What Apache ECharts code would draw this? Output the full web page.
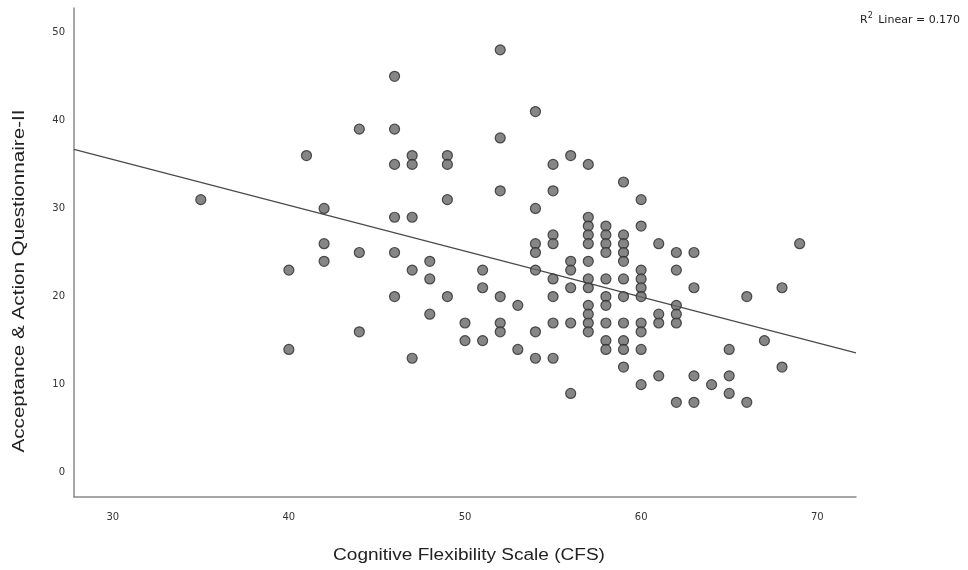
<!DOCTYPE html>
<html>
<head>
<meta charset="utf-8">
<script src="https://cdn.jsdelivr.net/npm/echarts@6/dist/echarts.min.js"></script>
<style>
html,body{margin:0;padding:0;background:#fff;}
#chart{width:968px;height:570px;}
</style>
</head>
<body>
<div id="chart"></div>
<script>
// CFS scores (x) and AAQ-II scores (y), one entry per participant
const cfsScores = [
  35,
  40, 40,
  41,
  42, 42, 42,
  44, 44, 44,
  46, 46, 46, 46, 46, 46,
  47, 47, 47, 47, 47,
  48, 48, 48,
  49, 49, 49, 49,
  50, 50,
  51, 51, 51,
  52, 52, 52, 52, 52, 52,
  53, 53,
  54, 54, 54, 54, 54, 54, 54,
  55, 55, 55, 55, 55, 55, 55, 55,
  56, 56, 56, 56, 56, 56,
  57, 57, 57, 57, 57, 57, 57, 57, 57, 57, 57, 57,
  58, 58, 58, 58, 58, 58, 58, 58, 58, 58,
  59, 59, 59, 59, 59, 59, 59, 59, 59, 59, 59,
  60, 60, 60, 60, 60, 60, 60, 60, 60, 60,
  61, 61, 61, 61,
  62, 62, 62, 62, 62, 62,
  63, 63, 63, 63,
  64,
  65, 65, 65,
  66, 66,
  67,
  68, 68,
  69
];
const aaqScores = [
  31,
  23, 14,
  36,
  30, 26, 24,
  39, 25, 16,
  45, 39, 35, 29, 25, 20,
  36, 35, 29, 23, 13,
  24, 22, 18,
  36, 35, 31, 20,
  17, 15,
  23, 21, 15,
  48, 38, 32, 20, 17, 16,
  19, 14,
  41, 30, 26, 25, 23, 16, 13,
  35, 32, 27, 26, 22, 20, 17, 13,
  36, 24, 23, 21, 17, 9,
  35, 29, 28, 27, 26, 24, 22, 21, 19, 18, 17, 16,
  28, 27, 26, 25, 22, 20, 19, 17, 15, 14,
  33, 27, 26, 25, 24, 22, 20, 17, 15, 14, 12,
  31, 28, 23, 22, 21, 20, 17, 16, 14, 10,
  26, 18, 17, 11,
  25, 23, 19, 18, 17, 8,
  25, 21, 11, 8,
  10,
  14, 11, 9,
  20, 8,
  15,
  21, 12,
  26
];
// fitted linear line endpoints (x, y)
const fitX = [27.8, 72.2];
const fitY = [36.7, 13.6];
const xTickLabels = [30, 40, 50, 60, 70];
const yTickLabels = [0, 10, 20, 30, 40, 50];
const xRange = [27.8, 72.2];
const yRange = [-2.75, 52.75];
const rSquared = '0.170';
const xTitle = 'Cognitive Flexibility Scale (CFS)';
const yTitle = 'Acceptance & Action Questionnaire-II';

const points = cfsScores.map((x, i) => [x, aaqScores[i]]);
const fitLine = fitX.map((x, i) => [x, fitY[i]]);

const chart = echarts.init(document.getElementById('chart'), null, {renderer: 'canvas'});
chart.setOption({
  animation: false,
  backgroundColor: '#ffffff',
  title: {
    text: '{r|R}{sup|2}{r| Linear = ' + rSquared + '}',
    left: 855,
    top: 7,
    textStyle: {
      fontWeight: 'normal',
      rich: {
        r: {fontFamily: 'DejaVu Sans', fontSize: 11, fontWeight: 'normal', color: '#222', verticalAlign: 'bottom'},
        sup: {fontFamily: 'DejaVu Sans', fontSize: 8, fontWeight: 'normal', color: '#222', verticalAlign: 'top', padding: [0, 2, 6, 0]}
      }
    }
  },
  graphic: [
    {
      type: 'text',
      x: 469, y: 556,
      scaleX: 1.19,
      style: {
        text: xTitle,
        font: '16px "Liberation Sans"',
        fill: '#222',
        align: 'center',
        verticalAlign: 'middle'
      }
    },
    {
      type: 'text',
      x: 19.5, y: 281,
      rotation: Math.PI / 2,
      scaleX: 1.29,
      style: {
        text: yTitle,
        font: '16px "Liberation Sans"',
        fill: '#222',
        align: 'center',
        verticalAlign: 'middle'
      }
    }
  ],
  grid: {left: 74, right: 112, top: 8, bottom: 73},
  xAxis: {
    type: 'value',
    min: xRange[0],
    max: xRange[1],
    axisLine: {show: true, onZero: false, lineStyle: {color: '#8a8a8a', width: 1.5}},
    axisTick: {show: false},
    splitLine: {show: false},
    axisLabel: {
      customValues: xTickLabels,
      fontFamily: 'DejaVu Sans', fontSize: 10, color: '#333', margin: 15
    }
  },
  yAxis: {
    type: 'value',
    min: yRange[0],
    max: yRange[1],
    axisLine: {show: true, onZero: false, lineStyle: {color: '#8a8a8a', width: 1.5}},
    axisTick: {show: false},
    splitLine: {show: false},
    axisLabel: {
      customValues: yTickLabels,
      fontFamily: 'DejaVu Sans', fontSize: 10, color: '#333', margin: 9
    }
  },
  series: [
    {
      type: 'scatter',
      data: points,
      symbol: 'circle',
      symbolSize: 10,
      itemStyle: {color: '#686868', borderColor: '#2a2a2a', borderWidth: 1.2},
      z: 3
    },
    {
      type: 'line',
      data: fitLine,
      symbol: 'none',
      lineStyle: {color: '#4a4a4a', width: 1.2},
      z: 2
    }
  ]
});
</script>
</body>
</html>
